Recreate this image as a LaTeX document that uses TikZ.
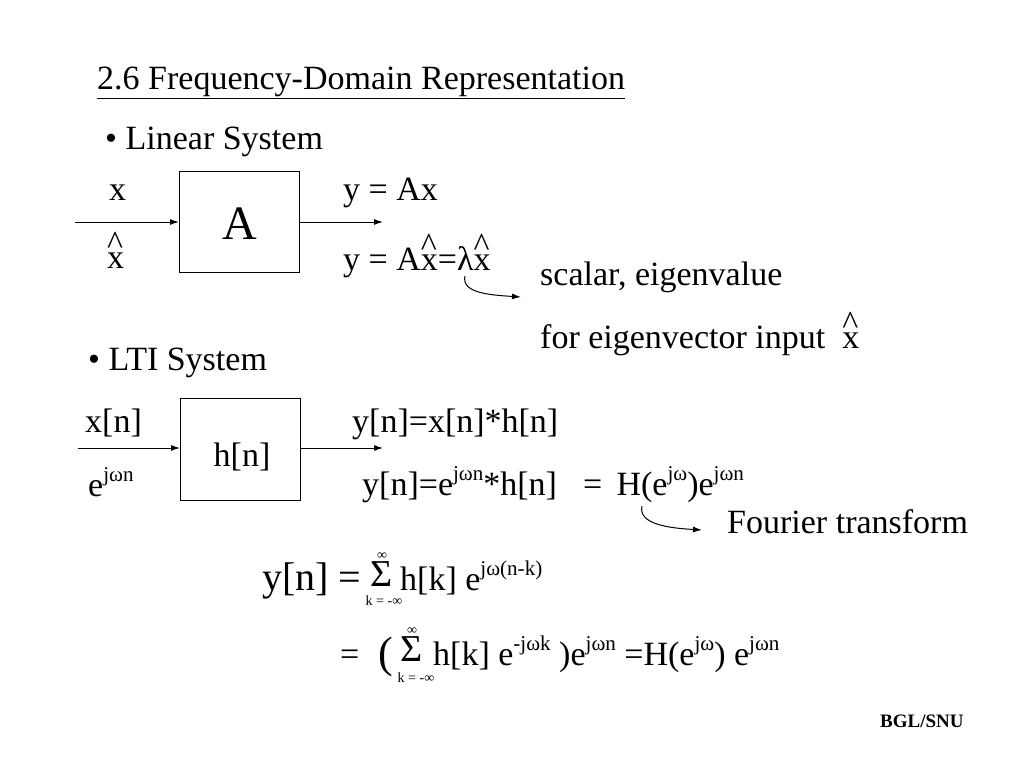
\documentclass[tikz,border=0pt]{standalone}
\usepackage{fontspec}
\usepackage{graphicx}
\setmainfont{Liberation Serif}
\usetikzlibrary{arrows.meta}
\newcommand\ssup[1]{\raisebox{0.42em}{\scalebox{0.62}{#1}}}
\newcommand\xhat{\makebox[0pt][l]{\raisebox{0.40em}{\textasciicircum}}x}
\begin{document}
\begin{tikzpicture}[x=1pt,y=-1pt,
  txt/.style={anchor=base west,inner sep=0pt,font=\fontsize{34}{40}\selectfont},
  big/.style={anchor=base west,inner sep=0pt,font=\fontsize{40}{44}\selectfont},
  sig/.style={anchor=base west,inner sep=0pt,font=\fontsize{38}{42}\selectfont},
  tiny/.style={anchor=base,inner sep=0pt,font=\fontsize{14}{16}\selectfont},
  sysbox/.style={draw,line width=1pt},
  arr/.style={line width=1pt,-{Latex[length=9pt,width=6pt]}}]
\useasboundingbox[fill=white] (0,0) rectangle (1024,768);
% title
\node[txt] (title) at (97,89) {\underline{2.6 Frequency-Domain Representation}};
\node[txt] (lin) at (105,149) {\textbullet\ Linear System};
% linear system
\node[sysbox,minimum width=120pt,minimum height=101pt,anchor=north west,inner sep=0pt] (A) at (179,171) {};
\node[anchor=center,inner sep=0pt,font=\fontsize{48}{52}\selectfont] (Al) at (240,224) {A};
\coordinate (ain) at (75,222);
\coordinate (aout) at (383,222);
\draw[arr] (ain) -- (A.west |- ain);
\draw[arr] (A.east |- aout) -- (aout);
\node[txt] (x1) at (109,200) {x};
\node[txt] (x2) at (107,268) {\xhat};
\node[txt] (y1) at (343,200) {y = Ax};
\node[txt] (y2) at (343,270) {y = A\xhat=λ\xhat};
\node[txt] (sc) at (540,285) {scalar, eigenvalue};
\node[txt] (ev) at (540,348) {for eigenvector input\ \ \xhat};
\coordinate (c1) at (465,276);
\coordinate (c2) at (521,297);
\draw[arr] (c1) .. controls (461,293) and (490,295) .. (c2);
% LTI
\node[txt] (lti) at (88,370) {\textbullet\ LTI System};
\node[sysbox,minimum width=120pt,minimum height=102pt,anchor=north west,inner sep=0pt] (H) at (180,398) {};
\node[txt,anchor=base] (Hl) at (242,466) {h[n]};
\coordinate (hin) at (78,448);
\coordinate (hout) at (383,448);
\draw[arr] (hin) -- (H.west |- hin);
\draw[arr] (H.east |- hout) -- (hout);
\node[txt] (xn) at (85,432) {x[n]};
\node[txt] (ejw) at (88,496) {e\ssup{jωn}};
\node[txt] (yn1) at (352,432) {y[n]=x[n]*h[n]};
\node[txt] (yn2) at (362,495) {y[n]=e\ssup{jωn}*h[n]};
\node[txt] (Hw) at (583,495) {=\ \,H(e\ssup{jω})e\ssup{jωn}};
\coordinate (f1) at (642,506);
\coordinate (f2) at (702,530);
\draw[arr] (f1) .. controls (638,524) and (668,528) .. (f2);
\node[txt] (ft) at (727,533) {Fourier transform};
% sums
\node[big] (s1a) at (262,590) {y[n] =};
\node[sig] (sig1) at (370,586) {Σ};
\node[tiny] (inf1) at (382,559) {∞};
\node[tiny] (k1) at (384,605) {k = -∞};
\node[txt] (s1b) at (400,590) {h[k] e\ssup{jω(n-k)}};
\node[txt] (s2a) at (340,665) {=};
\node[anchor=base west,inner sep=0pt,font=\fontsize{44}{48}\selectfont] (par) at (378,667) {(};
\node[sig] (sig2) at (400,661) {Σ};
\node[tiny] (inf2) at (412,634) {∞};
\node[tiny] (k2) at (416,682) {k = -∞};
\node[txt] (s2b) at (433,665) {h[k] e\ssup{-jωk} )e\ssup{jωn} =H(e\ssup{jω}) e\ssup{jωn}};
\node[anchor=base west,inner sep=0pt,font=\bfseries\fontsize{19}{22}\selectfont] (bgl) at (880,727) {BGL/SNU};
\end{tikzpicture}
\end{document}
